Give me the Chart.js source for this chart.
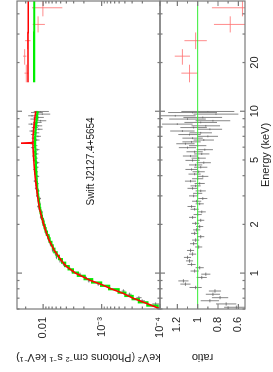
<!DOCTYPE html>
<html>
<head>
<meta charset="utf-8">
<script src="https://cdn.jsdelivr.net/npm/chart.js@4.4.1/dist/chart.umd.min.js"></script>
<style>
html, body { margin: 0; padding: 0; background: #fff; overflow: hidden; }
#wrap { position: absolute; left: 0; top: 0; width: 372px; height: 273px;
        transform-origin: 0 0; transform: translate(0, 372px) rotate(-90deg); }
</style>
</head>
<body>
<div id="wrap"><canvas id="spec" width="372" height="273"></canvas></div>
<script>
// pn-like data, 0.6-10 keV (bin centres, keV)
const energy = [0.615, 0.645, 0.675, 0.705, 0.74, 0.775, 0.815, 0.855, 0.895, 0.94, 0.985,
  1.03, 1.08, 1.13, 1.19, 1.25, 1.31, 1.38, 1.45, 1.52, 1.60, 1.68, 1.76, 1.85, 1.94,
  2.03, 2.12, 2.21, 2.30, 2.39, 2.48, 2.58, 2.68, 2.78, 2.89, 3.0, 3.11, 3.22, 3.34, 3.46,
  3.58, 3.7, 3.83, 3.96, 4.09, 4.23, 4.37, 4.51, 4.66, 4.81, 4.97,
  5.13, 5.29, 5.45, 5.62, 5.79, 5.96, 6.13, 6.3, 6.47, 6.64, 6.82, 7.0, 7.18, 7.36, 7.55,
  7.74, 7.93, 8.13, 8.33, 8.53, 8.74, 8.95, 9.16, 9.38, 9.6, 9.82, 9.97];
// keV^2 (Photons cm^-2 s^-1 keV^-1)
const specFlux = [6.8e-5, 1.19e-4, 2.02e-4, 2.30e-4, 3.32e-4, 4.23e-4, 7.55e-4, 1.14e-3, 1.65e-3, 1.87e-3, 2.35e-3,
  3.19e-3, 3.58e-3, 4.45e-3, 5.13e-3, 5.89e-3, 6.14e-3, 6.85e-3, 6.78e-3, 7.54e-3, 7.91e-3, 7.91e-3, 8.86e-3, 9.14e-3, 9.26e-3,
  1.0e-2, 9.80e-3, 1.097e-2, 1.075e-2, 1.056e-2, 1.159e-2, 1.214e-2, 1.142e-2, 1.197e-2, 1.14e-2, 1.269e-2, 1.235e-2, 1.208e-2, 1.323e-2, 1.295e-2,
  1.254e-2, 1.38e-2, 1.3e-2, 1.24e-2, 1.349e-2, 1.302e-2, 1.399e-2, 1.285e-2, 1.357e-2, 1.255e-2, 1.407e-2,
  1.332e-2, 1.445e-2, 1.301e-2, 1.401e-2, 1.265e-2, 1.502e-2, 1.37e-2, 1.534e-2, 1.452e-2, 1.288e-2, 1.439e-2, 1.229e-2, 1.469e-2, 1.314e-2, 1.553e-2,
  1.184e-2, 1.394e-2, 1.224e-2, 1.584e-2, 1.271e-2, 1.105e-2, 1.419e-2, 1.216e-2, 1.549e-2, 1.033e-2, 1.313e-2, 1.121e-2];
const ratio = [0.62, 0.72, 0.88, 0.78, 0.85, 0.83, 1.02, 1.12, 1.14, 0.96, 0.92,
  1.03, 0.98, 1.06, 1.08, 1.10, 1.05, 1.07, 0.99, 1.04, 1.02, 0.97, 1.03, 1.01, 0.98,
  1.02, 0.97, 1.05, 1.0, 0.96, 1.03, 1.06, 0.98, 1.01, 0.95, 1.04, 1.0, 0.97, 1.05, 1.02,
  0.98, 1.07, 1.0, 0.95, 1.03, 0.99, 1.06, 0.97, 1.02, 0.94, 1.05,
  0.99, 1.07, 0.96, 1.03, 0.93, 1.10, 1.0, 1.12, 1.06, 0.94, 1.05, 0.90, 1.08, 0.97, 1.15,
  0.88, 1.04, 0.92, 1.20, 0.97, 0.85, 1.10, 0.95, 1.22, 0.82, 1.05, 0.90];
const ratioErr = [0.12, 0.10, 0.09, 0.08, 0.07, 0.06, 0.06, 0.05, 0.05, 0.05, 0.045,
  0.04, 0.04, 0.04, 0.035, 0.035, 0.035, 0.035, 0.035, 0.035, 0.035, 0.035, 0.035, 0.035, 0.035,
  0.035, 0.035, 0.035, 0.04, 0.04, 0.04, 0.04, 0.04, 0.045, 0.045, 0.045, 0.045, 0.05, 0.05, 0.05,
  0.05, 0.055, 0.055, 0.055, 0.06, 0.06, 0.06, 0.065, 0.065, 0.07, 0.07,
  0.07, 0.075, 0.075, 0.08, 0.08, 0.085, 0.085, 0.09, 0.09, 0.1, 0.1, 0.1, 0.11, 0.11, 0.12,
  0.12, 0.13, 0.14, 0.15, 0.16, 0.17, 0.18, 0.19, 0.2, 0.22, 0.24, 0.26];
// green model, one value per bin
const greenModel = [1.10e-4, 1.65e-4, 2.30e-4, 2.95e-4, 3.9e-4, 5.1e-4, 7.4e-4, 1.02e-3, 1.45e-3, 1.95e-3, 2.55e-3,
  3.1e-3, 3.65e-3, 4.2e-3, 4.75e-3, 5.35e-3, 5.85e-3, 6.4e-3, 6.85e-3, 7.25e-3, 7.75e-3, 8.15e-3, 8.6e-3, 9.05e-3, 9.45e-3,
  9.8e-3, 1.01e-2, 1.045e-2, 1.075e-2, 1.1e-2, 1.125e-2, 1.145e-2, 1.165e-2, 1.185e-2, 1.2e-2, 1.22e-2, 1.235e-2, 1.245e-2, 1.26e-2, 1.27e-2,
  1.28e-2, 1.29e-2, 1.3e-2, 1.305e-2, 1.31e-2, 1.315e-2, 1.32e-2, 1.325e-2, 1.33e-2, 1.335e-2, 1.34e-2,
  1.345e-2, 1.35e-2, 1.355e-2, 1.36e-2, 1.36e-2, 1.365e-2, 1.37e-2, 1.37e-2, 1.37e-2, 1.37e-2, 1.37e-2, 1.365e-2, 1.36e-2, 1.355e-2, 1.35e-2,
  1.345e-2, 1.34e-2, 1.33e-2, 1.32e-2, 1.31e-2, 1.3e-2, 1.29e-2, 1.28e-2, 1.27e-2, 1.26e-2, 1.25e-2, 1.245e-2];
// red model (with the narrow Fe line)
const redE = [0.6, 0.65, 0.7, 0.75, 0.8, 0.85, 0.9, 0.95, 1.0, 1.1, 1.2, 1.4, 1.6, 1.8, 2.0, 2.5, 3.0, 3.5,
  4.0, 4.5, 5.0, 5.5, 6.0, 6.3, 6.35, 6.4, 7.0, 8.0, 9.0, 10.0];
const redModel = [0.98e-4, 1.7e-4, 2.9e-4, 4.3e-4, 6.9e-4, 1.0e-3, 1.55e-3, 2.1e-3, 2.8e-3, 4.0e-3, 4.9e-3, 6.6e-3, 7.9e-3, 8.9e-3, 9.8e-3, 1.15e-2, 1.25e-2, 1.32e-2,
  1.38e-2, 1.42e-2, 1.45e-2, 1.47e-2, 1.49e-2, 1.50e-2, 2.4e-2, 1.50e-2, 1.49e-2, 1.44e-2, 1.39e-2, 1.34e-2];
// hard X-ray data, 15-50 keV
const hardE = [17.2, 21.9, 27.3, 34.4, 43.6];
const hardLo = [15.1, 19.4, 24.2, 30.7, 38.6];
const hardHi = [19.4, 24.2, 30.7, 38.6, 49.3];
const hardFlux = [0.0194, 0.0207, 0.0184, 0.0122, 0.0101];
const hardRatio = [1.08, 1.15, 1.02, 0.68, 0.56];
const hardRatioErr = [0.08, 0.075, 0.11, 0.16, 0.3];
const hardGreen = [0.0143, 0.0143, 0.0143, 0.0142, 0.0142];
const hardRed = [0.0181, 0.0181, 0.0181, 0.0180, 0.0180];

// axis ticks
const energyTicks = [1, 2, 5, 10, 20];
const energyLabels = ['1', '2', '5', '10', '20'];
const fluxTicks = [1e-4, 1e-3, 0.01];
const fluxLabels = ['10\u207B\u2074', '10\u207B\u00B3', '0.01'];
const ratioTicks = [0.6, 0.8, 1, 1.2];
const ratioLabels = ['0.6', '0.8', '1', '1.2'];

const eLo = energy.map((e, i) => i === 0 ? 0.6 : Math.sqrt(e * energy[i - 1]));
const eHi = energy.map((e, i) => i === energy.length - 1 ? 10 : Math.sqrt(e * energy[i + 1]));

const specPts = energy.map((e, i) => ({ x: e, y: specFlux[i], xMin: eLo[i], xMax: eHi[i],
  yMin: specFlux[i] * (1 - ratioErr[i] / ratio[i]), yMax: specFlux[i] * (1 + ratioErr[i] / ratio[i]) }));
const ratioPts = energy.map((e, i) => ({ x: e, y: ratio[i], xMin: eLo[i], xMax: eHi[i],
  yMin: ratio[i] - ratioErr[i], yMax: ratio[i] + ratioErr[i] }));
const hardSpecPts = hardE.map((e, i) => ({ x: e, y: hardFlux[i], xMin: hardLo[i], xMax: hardHi[i],
  yMin: hardFlux[i] * (1 - hardRatioErr[i] / hardRatio[i]), yMax: hardFlux[i] * (1 + hardRatioErr[i] / hardRatio[i]) }));
const hardRatioPts = hardE.map((e, i) => ({ x: e, y: hardRatio[i], xMin: hardLo[i], xMax: hardHi[i],
  yMin: hardRatio[i] - hardRatioErr[i], yMax: hardRatio[i] + hardRatioErr[i] }));

function stepLine(xs, ys, lo, hi) {
  const pts = [{ x: lo, y: ys[0] }];
  xs.forEach((x, i) => pts.push({ x: x, y: ys[i] }));
  pts.push({ x: hi, y: ys[ys.length - 1] });
  return pts;
}

const GRAY = 'rgba(95,95,95,0.75)';
const PINK = 'rgba(255,110,110,0.8)';

// error crosses drawn under the model lines
const errorBars = {
  id: 'errorBars',
  beforeDatasetsDraw(chart) {
    const ctx = chart.ctx;
    chart.data.datasets.forEach((ds, i) => {
      if (!ds.crosses) return;
      const meta = chart.getDatasetMeta(i);
      const xs = chart.scales[meta.xAxisID], ys = chart.scales[meta.yAxisID];
      ctx.save();
      ctx.beginPath();
      ctx.rect(chart.chartArea.left, ys.top, chart.chartArea.right - chart.chartArea.left, ys.bottom - ys.top);
      ctx.clip();
      ctx.strokeStyle = ds.borderColor;
      ctx.lineWidth = 1;
      ctx.beginPath();
      ds.data.forEach(p => {
        const px = xs.getPixelForValue(p.x), py = ys.getPixelForValue(p.y);
        ctx.moveTo(xs.getPixelForValue(p.xMin), py);
        ctx.lineTo(xs.getPixelForValue(p.xMax), py);
        ctx.moveTo(px, ys.getPixelForValue(Math.max(p.yMin, ys.min * 0.5)));
        ctx.lineTo(px, ys.getPixelForValue(p.yMax));
      });
      ctx.stroke();
      ctx.restore();
    });
  }
};

// PGPLOT style frames with inward ticks on every side
const frame = {
  id: 'frame',
  afterDatasetsDraw(chart) {
    const { ctx, chartArea: a } = chart;
    const x = chart.scales.x;
    const inside = (s, v) => v >= s.min && v <= s.max;
    const eMajor = [1, 10], eMinor = [0.6, 0.7, 0.8, 0.9, 2, 3, 4, 5, 6, 7, 8, 9, 20, 30, 40];
    const panels = [
      [chart.scales.yS, [1e-4, 1e-3, 1e-2], [2e-4, 3e-4, 4e-4, 5e-4, 6e-4, 7e-4, 8e-4, 9e-4,
        2e-3, 3e-3, 4e-3, 5e-3, 6e-3, 7e-3, 8e-3, 9e-3, 2e-2]],
      [chart.scales.yR, [0.6, 0.8, 1.0, 1.2], [0.7, 0.9, 1.1, 1.3]]
    ];
    ctx.save();
    ctx.strokeStyle = '#7a7a7a';
    ctx.lineWidth = 1.2;
    panels.forEach(([ys, maj, min]) => {
      const top = ys.top, bot = ys.bottom;
      ctx.strokeRect(a.left, top, a.right - a.left, bot - top);
      ctx.beginPath();
      [[eMajor, 5], [eMinor, 2.5]].forEach(([vals, len]) => vals.forEach(v => {
        if (!inside(x, v)) return;
        const px = x.getPixelForValue(v);
        ctx.moveTo(px, top); ctx.lineTo(px, top + len);
        ctx.moveTo(px, bot); ctx.lineTo(px, bot - len);
      }));
      [[maj, 5], [min, 2.5]].forEach(([vals, len]) => vals.forEach(v => {
        if (!inside(ys, v)) return;
        const py = ys.getPixelForValue(v);
        ctx.moveTo(a.left, py); ctx.lineTo(a.left + len, py);
        ctx.moveTo(a.right, py); ctx.lineTo(a.right - len, py);
      }));
      ctx.stroke();
    });
    // source name
    ctx.fillStyle = '#222';
    ctx.font = '10px "Liberation Sans", Arial, Helvetica, sans-serif';
    ctx.textAlign = 'center';
    ctx.textBaseline = 'middle';
    ctx.fillText('Swift J2127.4+5654', x.getPixelForValue(4.9), chart.scales.yS.getPixelForValue(1.5e-3));
    ctx.restore();
  }
};

Chart.defaults.font.family = '"Liberation Sans", Arial, Helvetica, sans-serif';
Chart.defaults.font.size = 11;
Chart.defaults.color = '#222';

const fixedTicks = (vals) => function (scale) { scale.ticks = vals.map(v => ({ value: v })); };
const labelFor = (vals, labels) => (v) => { const i = vals.findIndex(t => Math.abs(t - v) < 1e-9); return i < 0 ? '' : labels[i]; };

new Chart(document.getElementById('spec'), {
  type: 'line',
  data: {
    datasets: [
      { label: 'pn data', type: 'scatter', crosses: true, data: specPts, yAxisID: 'yS', borderColor: GRAY, pointRadius: 0, showLine: false },
      { label: 'hard data', type: 'scatter', crosses: true, data: hardSpecPts, yAxisID: 'yS', borderColor: PINK, pointRadius: 0, showLine: false },
      { label: 'pn ratio', type: 'scatter', crosses: true, data: ratioPts, yAxisID: 'yR', borderColor: GRAY, pointRadius: 0, showLine: false },
      { label: 'hard ratio', type: 'scatter', crosses: true, data: hardRatioPts, yAxisID: 'yR', borderColor: PINK, pointRadius: 0, showLine: false },
      { label: 'red model', data: redE.map((e, i) => ({ x: e, y: redModel[i] })), yAxisID: 'yS',
        borderColor: '#ff0000', borderWidth: 1.6, pointRadius: 0 },
      { label: 'red model hard', data: stepLine(hardE, hardRed, 15.1, 49.3), yAxisID: 'yS', stepped: 'middle',
        borderColor: '#ff0000', borderWidth: 1.6, pointRadius: 0 },
      { label: 'green model', data: stepLine(energy, greenModel, 0.6, 10), yAxisID: 'yS', stepped: 'middle',
        borderColor: '#00ee00', borderWidth: 2.2, pointRadius: 0 },
      { label: 'green model hard', data: stepLine(hardE, hardGreen, 15.1, 49.3), yAxisID: 'yS', stepped: 'middle',
        borderColor: '#00ee00', borderWidth: 2.2, pointRadius: 0 },
      { label: 'unity', data: [{ x: 0.6, y: 1 }, { x: 49.3, y: 1 }], yAxisID: 'yR',
        borderColor: '#33ee33', borderWidth: 1, pointRadius: 0 }
    ]
  },
  options: {
    responsive: false,
    animation: false,
    devicePixelRatio: 1,
    layout: { padding: { top: 17, right: 1, left: 0, bottom: 0 } },
    plugins: { legend: { display: false }, tooltip: { enabled: false } },
    scales: {
      x: {
        type: 'logarithmic', min: 0.6, max: 48, position: 'bottom',
        grid: { display: false, drawTicks: false }, border: { display: false },
        afterBuildTicks: fixedTicks(energyTicks),
        afterFit(s) { s.height = 28; },
        ticks: { autoSkip: false, maxRotation: 0, padding: 3, callback: labelFor(energyTicks, energyLabels) },
        title: { display: true, text: 'Energy (keV)', padding: 0 }
      },
      // defined ratio first so that the spectrum panel is stacked on top
      yR: {
        type: 'linear', min: 0.535, max: 1.37, position: 'left', stack: 'p', stackWeight: 85,
        grid: { display: false, drawTicks: false }, border: { display: false },
        afterBuildTicks: fixedTicks(ratioTicks),
        afterFit(s) { s.width = 63; },
        ticks: { autoSkip: false, padding: 8, callback: labelFor(ratioTicks, ratioLabels) },
        title: { display: true, text: 'ratio', padding: { top: 8, bottom: 0 } }
      },
      yS: {
        type: 'logarithmic', min: 1e-4, max: 0.028, position: 'left', stack: 'p', stackWeight: 143,
        grid: { display: false, drawTicks: false }, border: { display: false },
        afterBuildTicks: fixedTicks(fluxTicks),
        afterFit(s) { s.width = 63; },
        ticks: { autoSkip: false, padding: 8, callback: labelFor(fluxTicks, fluxLabels) },
        title: { display: true, text: 'keV\u00B2 (Photons cm\u207B\u00B2 s\u207B\u00B9 keV\u207B\u00B9)', padding: { top: 8, bottom: 0 } }
      }
    }
  },
  plugins: [errorBars, frame]
});
</script>
</body>
</html>
